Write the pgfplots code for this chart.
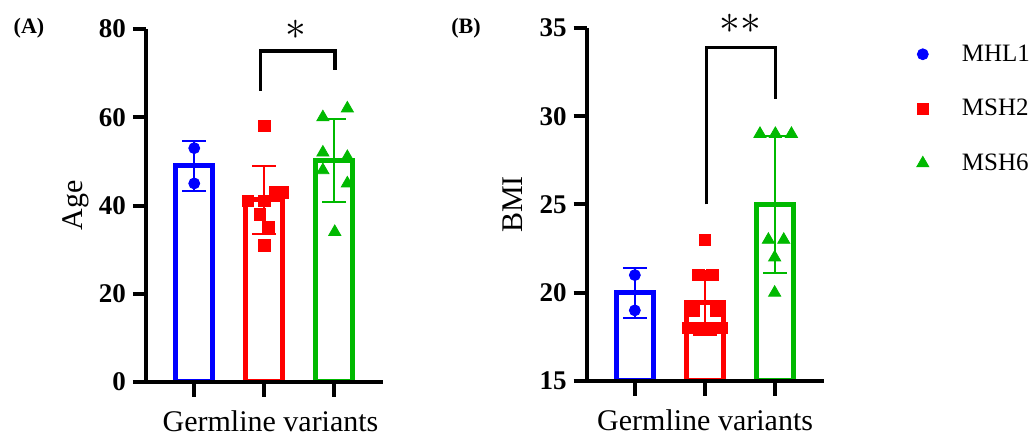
\documentclass[border=0pt]{standalone}
\usepackage{fontspec}
\setmainfont{Liberation Serif}
\usepackage{pgfplots}
\pgfplotsset{compat=1.18}

\definecolor{mblue}{RGB}{0,0,255}
\definecolor{mred}{RGB}{255,0,0}
\definecolor{mgreen}{RGB}{0,185,0}

\pgfplotsset{
  panel/.style={
    scale only axis, width=118.5pt, height=176.5pt, anchor=south west,
    xmin=-0.69, xmax=2.7,
    axis x line=bottom, axis y line=left,
    axis line style={line width=2pt, -},
    xtick={0,1,2}, xticklabels={},
    tick align=outside, major tick length=6.5pt,
    tick style={black, line width=2pt},
    xtick style={/pgfplots/major tick length=7.5pt},
    minor tick num=0,
    /pgf/number format/assume math mode=true,
    yticklabel style={font=\fontsize{13.5}{14}\selectfont\bfseries},
    label style={font=\fontsize{15}{17}\selectfont},
    xlabel={Germline variants},
    xlabel style={at={(axis description cs:0.5,0)}, anchor=base, yshift=-25pt},
    ylabel style={at={(axis description cs:-0.27,0.5)}, anchor=base},
    axis on top,
  },
  mybar/.style={ybar, bar width=0.53, bar shift=0pt, draw=#1, fill=white,
    line width=2.5pt, forget plot,
    error bars/y dir=both, error bars/y explicit,
    error bars/error bar style={line width=1pt, draw=#1},
    error bars/error mark options={rotate=90, mark size=6pt, line width=1pt, draw=#1}},
  mypts/.style={only marks, draw=#1, fill=#1},
}

\begin{document}
\begin{tikzpicture}
\useasboundingbox (0,0) rectangle (517pt,218.5pt);
\node at (14.5pt,204.5pt) {\fontsize{11}{12}\selectfont\bfseries (A)};
\node at (233pt,204.5pt) {\fontsize{11}{12}\selectfont\bfseries (B)};

% panel A: age
\begin{axis}[panel, at={(73pt,27.5pt)}, ymin=0, ymax=80, ytick={0,20,40,60,80},
  ylabel={Age}, xlabel style={xshift=3pt}]
\addplot[mybar=mblue] coordinates {(0,49) +- (0,5.66)};
\addplot[mybar=mred] coordinates {(1,41.25) +- (0,7.6)};
\addplot[mybar=mgreen] coordinates {(2,50.3) +- (0,9.4)};
\addplot[mypts=mblue, mark=*, mark size=2.75pt] coordinates {(0,53) (0,45)};
\addplot[mypts=mred, mark=square*, mark size=2.9pt] coordinates {
  (1,58) (0.77,41) (1,41) (1.16,43) (1.26,43) (0.94,38) (1.06,35) (1,31)};
\addplot[mypts=mgreen, mark=triangle*, mark size=3.5pt] coordinates {
  (1.84,60) (2.19,62) (1.84,52) (2.19,51) (1.84,48) (2.19,45) (2.01,34)};
\draw[line width=1.65pt] (axis cs:0.943,66) -- (axis cs:0.943,75) -- (axis cs:2.014,75) -- (axis cs:2.014,70.7);
\coordinate (astA) at (axis cs:1.457,79.8);
\end{axis}
\node[inner sep=0pt] at (astA) {\fontsize{21}{21}\selectfont$\ast$};

% panel B: BMI
\begin{axis}[panel, at={(293.3pt,28pt)}, ymin=15, ymax=35, ytick={15,20,25,30,35},
  ylabel={BMI},
  legend style={at={(axis description cs:1.366,0.977)}, anchor=north west,
    draw=none, fill=none, row sep=13.5pt, font=\fontsize{12.5}{14}\selectfont,
    /tikz/every odd column/.append style={column sep=14.5pt}},
  legend cell align=left]
\addplot[mybar=mblue] coordinates {(0,20) +- (0,1.41)};
\addplot[mybar=mred] coordinates {(1,19.44) +- (0,1.81)};
\addplot[mybar=mgreen] coordinates {(2,25) +- (0,3.87)};
\addplot[mypts=mblue, mark=*, mark size=2.75pt] coordinates {(0,21) (0,19)};
\addlegendentry{MHL1}
\addplot[mypts=mred, mark=square*, mark size=2.9pt] coordinates {
  (1,23) (0.91,21) (1.11,21) (0.84,19) (1.16,19) (0.77,18) (0.93,18) (1.09,18) (1.24,18)};
\addlegendentry{MSH2}
\addplot[mypts=mgreen, mark=triangle*, mark size=3.5pt] coordinates {
  (1.79,29) (2.01,29) (2.24,29) (1.91,23) (2.13,23) (2,22) (2,20)};
\addlegendentry{MSH6}
\draw[line width=1.65pt] (axis cs:1.024,25) -- (axis cs:1.024,33.9) -- (axis cs:2.014,33.9) -- (axis cs:2.014,31);
\coordinate (astB) at (axis cs:1.514,35.1);
\end{axis}
\node[inner sep=0pt, yshift=1pt] at (astB) {\fontsize{21}{21}\selectfont$\ast\ast$};
\end{tikzpicture}
\end{document}
